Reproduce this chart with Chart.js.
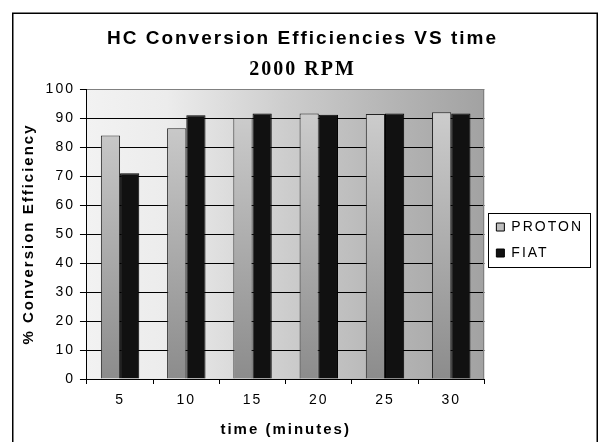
<!DOCTYPE html>
<html>
<head>
<meta charset="utf-8">
<title>HC Conversion Efficiencies VS time</title>
<script src="https://cdn.jsdelivr.net/npm/chart.js@4/dist/chart.umd.min.js"></script>
<style>
  html, body { margin: 0; padding: 0; background: #fff; }
  canvas { display: block; }
</style>
</head>
<body>
<canvas id="hcChart" width="600" height="442"></canvas>
<script>
'use strict';

// data
const timeLabels = ['5', '10', '15', '20', '25', '30'];
const protonData = [84, 86.5, 90, 91.6, 91.4, 92];
const fiatData = [71, 91, 91.6, 91.1, 91.6, 91.6];
const seriesNames = ['PROTON', 'FIAT'];

(function () {
  const sans = "'Liberation Sans', Arial, sans-serif";
  const serif = "'Liberation Serif', 'Times New Roman', serif";

  // grey vertical shading for the PROTON bars
  function protonFill(context) {
    const area = context.chart.chartArea;
    if (!area) return '#b0b0b0';
    const g = context.chart.ctx.createLinearGradient(0, area.top, 0, area.bottom);
    g.addColorStop(0, '#d2d2d2');
    g.addColorStop(1, '#8c8c8c');
    return g;
  }

  // the original text is set wide, so space the letters out a little
  function spaceText(chart) {
    if ('letterSpacing' in chart.ctx) chart.ctx.letterSpacing = '2px';
  }

  // frame, plot background and legend box
  const backdrop = {
    id: 'backdrop',
    beforeUpdate: spaceText,
    afterLayout(chart) {
      const lg = chart.legend;
      lg.top += 6;
      lg.bottom += 6;
    },
    beforeDraw(chart) {
      spaceText(chart);
      const { ctx, chartArea: a } = chart;
      ctx.save();
      ctx.fillStyle = '#fff';
      ctx.fillRect(0, 0, chart.width, chart.height);
      ctx.strokeStyle = '#000';
      ctx.lineWidth = 1.5;
      ctx.strokeRect(12.75, 13.25, 584.5, 440);

      const g = ctx.createLinearGradient(a.left, 0, a.right, 0);
      g.addColorStop(0, '#f2f2f2');
      g.addColorStop(0.2, '#ececec');
      g.addColorStop(0.5, '#cdcdcd');
      g.addColorStop(0.75, '#b6b6b6');
      g.addColorStop(1, '#a2a2a2');
      ctx.fillStyle = g;
      ctx.fillRect(a.left, a.top, a.right - a.left, a.bottom - a.top);
      ctx.restore();
    },
    beforeDatasetsDraw(chart) {
      const { ctx, chartArea: a } = chart;
      ctx.save();
      ctx.strokeStyle = '#808080';
      ctx.lineWidth = 1;
      ctx.beginPath();
      ctx.moveTo(Math.round(a.right) - 0.5, a.top);
      ctx.lineTo(Math.round(a.right) - 0.5, a.bottom);
      ctx.stroke();
      ctx.restore();
    },
    afterDraw(chart) {
      const lg = chart.legend;
      const boxes = lg.legendHitBoxes;
      if (!boxes || !boxes.length) return;
      const top = Math.min(...boxes.map(b => b.top)) - 7;
      const bottom = Math.max(...boxes.map(b => b.top + b.height)) + 7;
      const left = Math.min(...boxes.map(b => b.left)) - 8;
      const ctx = chart.ctx;
      ctx.save();
      ctx.strokeStyle = '#000';
      ctx.lineWidth = 1;
      ctx.strokeRect(Math.round(left) + 0.5, Math.round(top) + 0.5, 102, Math.round(bottom - top));
      ctx.restore();
    }
  };

  document.addEventListener('DOMContentLoaded', function () {
    const ctx = document.getElementById('hcChart').getContext('2d');

    new Chart(ctx, {
      type: 'bar',
      data: {
        labels: timeLabels,
        datasets: [
          {
            label: seriesNames[0],
            data: protonData,
            backgroundColor: protonFill,
            borderColor: '#222',
            borderWidth: 1,
            barPercentage: 1.0,
            categoryPercentage: 0.58
          },
          {
            label: seriesNames[1],
            data: fiatData,
            backgroundColor: '#111111',
            borderColor: '#000',
            borderWidth: 1,
            barPercentage: 1.0,
            categoryPercentage: 0.58
          }
        ]
      },
      options: {
        responsive: false,
        animation: false,
        devicePixelRatio: 1,
        layout: {
          padding: { top: 0, left: 12, right: 7, bottom: 3 }
        },
        plugins: {
          title: {
            display: true,
            text: 'HC Conversion Efficiencies VS time',
            color: '#000',
            font: { family: sans, size: 19, weight: 'bold', lineHeight: 1.2 },
            padding: { top: 27, bottom: 0 }
          },
          subtitle: {
            display: true,
            text: '2000 RPM',
            color: '#000',
            font: { family: serif, size: 20, weight: 'bold', lineHeight: 1.2 },
            padding: { top: 8.5, bottom: 6.75 }
          },
          legend: {
            position: 'right',
            fullSize: false,
            align: 'center',
            labels: {
              color: '#000',
              font: { family: sans, size: 14, lineHeight: 1 },
              boxWidth: 8,
              boxHeight: 8,
              padding: 12,
              generateLabels: function (chart) {
                const items = Chart.defaults.plugins.legend.labels.generateLabels(chart);
                const fills = ['#bdbdbd', '#111111'];
                items.forEach(function (it, i) {
                  it.fillStyle = fills[i];
                  it.strokeStyle = '#000';
                  it.lineWidth = 1;
                });
                return items;
              }
            }
          },
          tooltip: { enabled: false }
        },
        scales: {
          x: {
            offset: true,
            grid: {
              offset: true,
              drawOnChartArea: false,
              drawTicks: true,
              tickLength: 5,
              tickColor: '#000'
            },
            border: { color: '#000', width: 1 },
            ticks: {
              color: '#000',
              padding: 7.6,
              font: { family: sans, size: 14 }
            },
            title: {
              display: true,
              text: 'time (minutes)',
              color: '#000',
              font: { family: sans, size: 15, weight: 'bold', lineHeight: 1.2 },
              padding: { top: 5, bottom: 0 }
            }
          },
          y: {
            min: 0,
            max: 100,
            ticks: {
              stepSize: 10,
              color: '#000',
              padding: 5,
              font: { family: sans, size: 14 }
            },
            grid: {
              color: function (c) {
                return c.tick && c.tick.value === 100 ? '#808080' : '#000';
              },
              tickColor: '#000',
              tickLength: 7,
              lineWidth: 1
            },
            border: { color: '#000', width: 1 },
            title: {
              display: true,
              text: '% Conversion Efficiency',
              color: '#000',
              font: { family: sans, size: 15, weight: 'bold', lineHeight: 1.2 },
              padding: { top: 8, bottom: 2.6 }
            }
          }
        }
      },
      plugins: [backdrop]
    });
  });
})();
</script>
</body>
</html>
